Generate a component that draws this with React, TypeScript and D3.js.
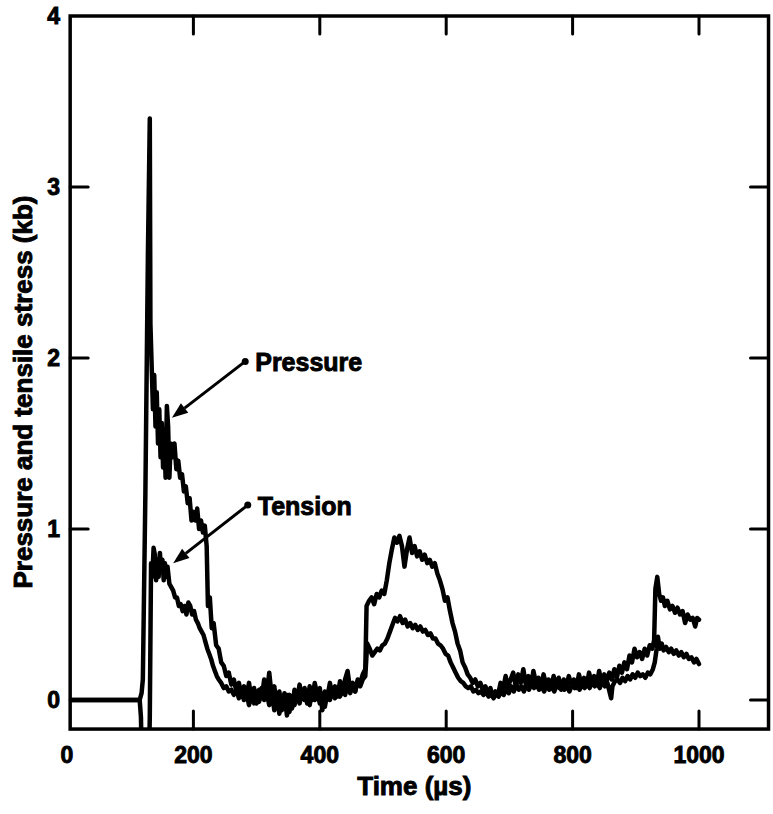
import { useEffect, useRef } from 'react';
import * as d3 from 'd3';

// [time (µs), stress (kb)]
const pressure: [number, number][] = [
  [0, 0], [115, 0], [118, 0.04], [120, 0.12], [124, 1.2], [128, 2.6], [131, 3.4], [132, 2.2],
  [134, 1.95], [136, 1.7], [138, 1.9], [140, 1.6], [142, 1.8], [144, 1.5], [146, 1.7], [148, 1.42],
  [150, 1.62], [152, 1.36], [154, 1.55], [156, 1.3], [158, 1.72], [160, 1.6], [162, 1.3], [164, 1.5],
  [167, 1.42], [170, 1.5], [173, 1.35], [176, 1.4], [179, 1.3], [182, 1.32], [185, 1.22], [188, 1.25],
  [191, 1.15], [194, 1.18], [197, 1.05], [200, 1.1], [203, 1.05], [206, 1.12], [209, 1.0], [212, 1.05],
  [215, 0.98], [218, 1.02], [221, 0.9], [223, 0.55], [226, 0.6], [229, 0.42], [232, 0.45], [236, 0.32],
  [240, 0.3], [244, 0.22], [248, 0.2], [252, 0.14], [256, 0.16], [260, 0.09], [264, 0.12], [268, 0.05],
  [272, 0.1], [276, 0.03], [280, 0.08], [284, 0.02], [288, 0.1], [292, 0.0], [296, 0.07], [300, -0.02],
  [304, 0.06], [308, 0.01], [312, 0.12], [316, 0.03], [320, 0.16], [324, 0.02], [328, 0.08], [332, -0.04],
  [336, 0.05], [340, -0.06], [344, 0.04], [348, -0.09], [352, 0.03], [356, -0.05], [360, 0.06], [364, 0.0],
  [368, 0.09], [372, 0.02], [376, 0.07], [380, -0.02], [384, 0.08], [388, 0.0], [392, 0.1], [396, 0.03],
  [400, 0.07], [404, -0.06], [408, 0.05], [412, 0.02], [416, 0.1], [420, 0.03], [424, 0.08], [428, 0.02],
  [432, 0.11], [436, 0.04], [440, 0.12], [444, 0.17], [448, 0.06], [452, 0.1], [456, 0.05], [460, 0.12],
  [464, 0.1], [468, 0.15], [472, 0.18], [474, 0.55], [478, 0.58], [482, 0.6], [486, 0.56], [490, 0.62],
  [494, 0.6], [498, 0.64], [502, 0.62], [506, 0.7], [510, 0.8], [514, 0.88], [518, 0.95], [522, 0.92],
  [526, 0.96], [530, 0.9], [534, 0.78], [538, 0.88], [542, 0.95], [546, 0.86], [550, 0.9], [554, 0.84],
  [558, 0.87], [562, 0.82], [566, 0.85], [570, 0.8], [574, 0.82], [578, 0.78], [582, 0.8], [586, 0.74],
  [590, 0.7], [594, 0.65], [598, 0.58], [602, 0.6], [606, 0.52], [610, 0.45], [614, 0.4], [618, 0.33],
  [622, 0.29], [626, 0.22], [630, 0.19], [634, 0.15], [638, 0.13], [642, 0.1], [646, 0.12], [650, 0.08],
  [654, 0.1], [658, 0.06], [662, 0.08], [666, 0.04], [670, 0.07], [674, 0.02], [678, 0.05], [682, 0.03],
  [686, 0.1], [690, 0.06], [694, 0.14], [698, 0.08], [702, 0.12], [706, 0.16], [710, 0.08], [714, 0.15],
  [718, 0.1], [722, 0.18], [726, 0.09], [730, 0.14], [734, 0.08], [738, 0.17], [742, 0.1], [746, 0.13],
  [750, 0.07], [754, 0.15], [758, 0.09], [762, 0.12], [766, 0.07], [770, 0.14], [774, 0.08], [778, 0.13],
  [782, 0.06], [786, 0.12], [790, 0.08], [794, 0.14], [798, 0.09], [802, 0.12], [806, 0.07], [810, 0.15],
  [814, 0.09], [818, 0.13], [822, 0.08], [826, 0.16], [830, 0.1], [834, 0.14], [838, 0.09], [842, 0.17],
  [846, 0.1], [850, 0.15], [854, 0.11], [858, 0.16], [862, 0.12], [866, 0.18], [870, 0.13], [874, 0.2],
  [878, 0.16], [882, 0.22], [886, 0.18], [890, 0.26], [894, 0.22], [898, 0.3], [902, 0.25], [906, 0.28],
  [910, 0.24], [914, 0.3], [918, 0.26], [922, 0.32], [926, 0.3], [929, 0.35], [931, 0.65], [934, 0.72],
  [937, 0.62], [940, 0.58], [943, 0.6], [946, 0.55], [950, 0.58], [954, 0.53], [958, 0.55], [962, 0.51],
  [966, 0.54], [970, 0.5], [974, 0.52], [978, 0.45], [982, 0.5], [986, 0.47], [990, 0.48], [994, 0.43],
  [997, 0.48], [1000, 0.47],
];

const tension: [number, number][] = [
  [0, 0], [115, 0], [117, -0.1], [118, -0.3], [130, -0.3], [131, -0.1], [133, 0.8], [135, 0.72],
  [137, 0.89], [139, 0.85], [141, 0.7], [143, 0.82], [145, 0.72], [147, 0.86], [149, 0.76], [151, 0.82],
  [153, 0.7], [155, 0.8], [157, 0.72], [159, 0.78], [162, 0.68], [165, 0.66], [168, 0.64], [171, 0.6],
  [174, 0.6], [177, 0.55], [180, 0.56], [183, 0.52], [186, 0.55], [189, 0.5], [192, 0.57], [195, 0.55],
  [198, 0.5], [201, 0.52], [204, 0.47], [207, 0.45], [210, 0.42], [213, 0.4], [216, 0.38], [219, 0.34],
  [222, 0.3], [225, 0.27], [228, 0.24], [231, 0.2], [234, 0.17], [237, 0.14], [240, 0.12], [244, 0.1],
  [248, 0.07], [252, 0.08], [256, 0.05], [260, 0.06], [264, 0.03], [268, 0.06], [272, 0.01], [276, 0.05],
  [280, 0.0], [284, 0.04], [288, -0.03], [292, 0.04], [296, -0.02], [300, 0.05], [304, -0.01], [308, 0.07],
  [312, 0.0], [316, 0.04], [320, -0.03], [324, 0.05], [328, -0.06], [332, 0.02], [336, -0.08], [340, 0.01],
  [344, -0.04], [348, 0.03], [352, -0.07], [356, 0.02], [360, -0.03], [364, 0.04], [368, -0.02], [372, 0.05],
  [376, 0.0], [380, 0.04], [384, -0.03], [388, 0.06], [392, 0.0], [396, 0.05], [400, -0.02], [404, 0.03],
  [408, -0.04], [412, 0.04], [416, 0.0], [420, 0.06], [424, 0.01], [428, 0.07], [432, 0.02], [436, 0.06],
  [440, 0.03], [444, 0.09], [448, 0.04], [452, 0.08], [456, 0.05], [460, 0.11], [464, 0.08], [468, 0.12],
  [472, 0.14], [475, 0.33], [479, 0.3], [483, 0.26], [487, 0.28], [491, 0.3], [495, 0.29], [499, 0.32],
  [503, 0.33], [507, 0.36], [511, 0.4], [515, 0.44], [519, 0.48], [523, 0.46], [527, 0.49], [531, 0.45],
  [535, 0.47], [539, 0.43], [543, 0.45], [547, 0.42], [551, 0.44], [555, 0.41], [559, 0.43], [563, 0.4],
  [567, 0.41], [571, 0.38], [575, 0.39], [579, 0.36], [583, 0.36], [587, 0.33], [591, 0.32], [595, 0.3],
  [599, 0.27], [603, 0.26], [607, 0.22], [611, 0.19], [615, 0.16], [619, 0.13], [623, 0.11], [627, 0.1],
  [631, 0.08], [635, 0.07], [639, 0.08], [643, 0.05], [647, 0.06], [651, 0.04], [655, 0.05], [659, 0.03],
  [663, 0.05], [667, 0.02], [671, 0.04], [675, 0.01], [679, 0.04], [683, 0.02], [687, 0.05], [691, 0.03],
  [695, 0.07], [699, 0.04], [703, 0.08], [707, 0.05], [711, 0.09], [715, 0.06], [719, 0.08], [723, 0.05],
  [727, 0.09], [731, 0.06], [735, 0.1], [739, 0.07], [743, 0.09], [747, 0.06], [751, 0.08], [755, 0.05],
  [759, 0.09], [763, 0.06], [767, 0.08], [771, 0.05], [775, 0.09], [779, 0.07], [783, 0.1], [787, 0.06],
  [791, 0.08], [795, 0.05], [799, 0.09], [803, 0.07], [807, 0.1], [811, 0.06], [815, 0.09], [819, 0.07],
  [823, 0.1], [827, 0.07], [831, 0.11], [835, 0.08], [839, 0.1], [843, 0.07], [847, 0.11], [851, 0.08],
  [855, 0.1], [859, 0.04], [861, 0.01], [863, 0.08], [867, 0.11], [871, 0.12], [875, 0.1], [879, 0.13],
  [883, 0.11], [887, 0.14], [891, 0.12], [895, 0.15], [899, 0.13], [903, 0.16], [907, 0.14], [911, 0.15],
  [915, 0.13], [919, 0.16], [923, 0.15], [927, 0.18], [930, 0.22], [933, 0.3], [935, 0.37], [938, 0.3],
  [941, 0.33], [944, 0.29], [948, 0.31], [952, 0.28], [956, 0.3], [960, 0.27], [964, 0.29], [968, 0.26],
  [972, 0.28], [976, 0.25], [980, 0.27], [984, 0.24], [988, 0.25], [992, 0.22], [996, 0.24], [1000, 0.21],
];

const xTicks = [0, 200, 400, 600, 800, 1000];
const yTicks = [0, 1, 2, 3, 4];

// label, dot position, arrow tip (data units)
const callouts = [
  { label: 'Pressure', from: [282, 1.98], to: [166, 1.65] },
  { label: 'Tension', from: [286, 1.14], to: [168, 0.8] },
];

const W = 773;
const H = 814;
const FONT = '"Liberation Sans", Arial, Helvetica, sans-serif';

export default function App() {
  const svgRef = useRef<SVGSVGElement>(null);

  useEffect(() => {
    if (!svgRef.current) return;
    const svg = d3.select(svgRef.current);
    svg.selectAll('*').remove();

    const x = d3.scaleLinear().domain([0, 1000]).range([67, 699]);
    const y = d3.scaleLinear().domain([0, 4]).range([700, 16]);

    // plot frame extends a little past the tick range
    const x0 = x(5), x1 = x(1110), yTop = y(4), yBot = y(-0.17);

    svg.append('defs').append('clipPath').attr('id', 'plot-clip')
      .append('rect')
      .attr('x', x0).attr('y', yTop)
      .attr('width', x1 - x0).attr('height', yBot - yTop);

    const line = d3.line<[number, number]>()
      .x(d => x(d[0]))
      .y(d => y(d[1]));

    const traces = svg.append('g').attr('clip-path', 'url(#plot-clip)');
    [pressure, tension].forEach(series => {
      traces.append('path')
        .datum(series)
        .attr('d', line)
        .attr('fill', 'none')
        .attr('stroke', '#000')
        .attr('stroke-width', 4.5)
        .attr('stroke-linejoin', 'round')
        .attr('stroke-linecap', 'round');
    });

    // frame
    svg.append('rect')
      .attr('x', x0).attr('y', yTop)
      .attr('width', x1 - x0).attr('height', yBot - yTop)
      .attr('fill', 'none')
      .attr('stroke', '#000')
      .attr('stroke-width', 3.5);

    const tickLen = 18;
    const ticks = svg.append('g').attr('stroke', '#000').attr('stroke-width', 3).attr('stroke-linecap', 'round');
    xTicks.filter(t => t > 0).forEach(t => {
      ticks.append('line').attr('x1', x(t)).attr('x2', x(t)).attr('y1', yBot).attr('y2', yBot - tickLen);
      ticks.append('line').attr('x1', x(t)).attr('x2', x(t)).attr('y1', yTop).attr('y2', yTop + tickLen);
    });
    yTicks.filter(v => v < 4).forEach(v => {
      ticks.append('line').attr('x1', x0).attr('x2', x0 + tickLen).attr('y1', y(v)).attr('y2', y(v));
      ticks.append('line').attr('x1', x1).attr('x2', x1 - tickLen).attr('y1', y(v)).attr('y2', y(v));
    });

    const labels = svg.append('g')
      .attr('font-family', FONT)
      .attr('font-weight', 'bold')
      .attr('fill', '#000')
      .attr('stroke', '#000')
      .attr('stroke-width', 0.9);

    labels.selectAll('.xl')
      .data(xTicks)
      .enter()
      .append('text')
      .attr('x', d => x(d))
      .attr('y', 763)
      .attr('text-anchor', 'middle')
      .attr('font-size', 23)
      .text(d => String(d));

    labels.selectAll('.yl')
      .data(yTicks)
      .enter()
      .append('text')
      .attr('x', 60)
      .attr('y', d => y(d) + 8)
      .attr('text-anchor', 'end')
      .attr('font-size', 23)
      .text(d => String(d));

    labels.append('text')
      .attr('x', (x0 + x1) / 2 - 5)
      .attr('y', 795)
      .attr('text-anchor', 'middle')
      .attr('font-size', 26)
      .text('Time (µs)');

    labels.append('text')
      .attr('transform', 'translate(32,392) rotate(-90)')
      .attr('text-anchor', 'middle')
      .attr('font-size', 26)
      .text('Pressure and tensile stress (kb)');

    // callouts: dot, line and filled arrowhead
    const notes = svg.append('g');
    callouts.forEach(c => {
      const fx = x(c.from[0]), fy = y(c.from[1]);
      const tx = x(c.to[0]), ty = y(c.to[1]);
      const ang = Math.atan2(ty - fy, tx - fx);
      const headLen = 16, headW = 6;
      const bx = tx - headLen * Math.cos(ang), by = ty - headLen * Math.sin(ang);
      notes.append('line')
        .attr('x1', fx).attr('y1', fy).attr('x2', bx).attr('y2', by)
        .attr('stroke', '#000').attr('stroke-width', 3);
      notes.append('circle').attr('cx', fx).attr('cy', fy).attr('r', 3.5).attr('fill', '#000');
      const px = -Math.sin(ang) * headW, py = Math.cos(ang) * headW;
      notes.append('path')
        .attr('d', `M${tx},${ty}L${bx + px},${by + py}L${bx - px},${by - py}Z`)
        .attr('fill', '#000');
      labels.append('text')
        .attr('x', fx + 10)
        .attr('y', fy + 10)
        .attr('font-size', 25)
        .text(c.label);
    });
  }, []);

  return (
    <svg
      ref={svgRef}
      width={W}
      height={H}
      style={{ position: 'absolute', left: 0, top: 0, background: '#fff' }}
    />
  );
}
